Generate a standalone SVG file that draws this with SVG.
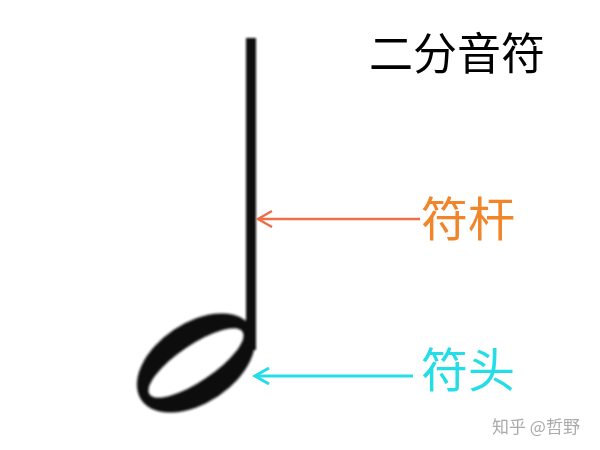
<svg xmlns="http://www.w3.org/2000/svg" width="600" height="450" viewBox="0 0 600 450">
<style>
.cjk{font-family:"Noto Sans CJK SC","Liberation Sans",sans-serif;}
.title{font-size:44px;fill:#000;}
.lbl{font-size:47px;}
.wm{font-size:17px;fill:#aaaaaa;}
</style>
<defs>
<filter id="soft" x="-10%" y="-10%" width="120%" height="120%"><feGaussianBlur stdDeviation="0.9"/></filter>
<marker id="arrO" markerWidth="20" markerHeight="20" refX="16" refY="9" orient="auto" markerUnits="userSpaceOnUse"><path d="M2,1 L16,9 L2,17" fill="none" stroke="#EC6F48" stroke-width="2.5"/></marker>
<marker id="arrC" markerWidth="20" markerHeight="20" refX="16" refY="9" orient="auto" markerUnits="userSpaceOnUse"><path d="M2,1 L16,9 L2,17" fill="none" stroke="#25DDE6" stroke-width="3"/></marker>
</defs>
<rect width="600" height="450" fill="#fff"/>
<g id="note" filter="url(#soft)">
<rect x="246" y="38" width="10" height="312" fill="#111"/>
<path fill="#111" fill-rule="evenodd" transform="translate(196,363) rotate(-34)" d="M-66,0 A66,40 0 1,0 66,0 A66,40 0 1,0 -66,0 Z M-56,0 A56,18 0 1,0 56,0 A56,18 0 1,0 -56,0 Z"/>
</g>
<g id="title"><text class="cjk title" x="369" y="70">二分音符</text></g>
<g id="label-stem"><text class="cjk lbl" x="421" y="236" fill="#F0852A">符杆</text></g>
<g id="label-head"><text class="cjk lbl" x="421" y="387" fill="#25DDE6">符头</text></g>
<g id="connectors">
<line x1="420" y1="219" x2="258" y2="219" stroke="#EC6F48" stroke-width="2.5" marker-end="url(#arrO)"/>
<line x1="413" y1="376" x2="255" y2="376" stroke="#25DDE6" stroke-width="3" marker-end="url(#arrC)"/>
</g>
<g id="watermark"><text class="cjk wm" x="492" y="433">知乎 @哲野</text></g>
</svg>
